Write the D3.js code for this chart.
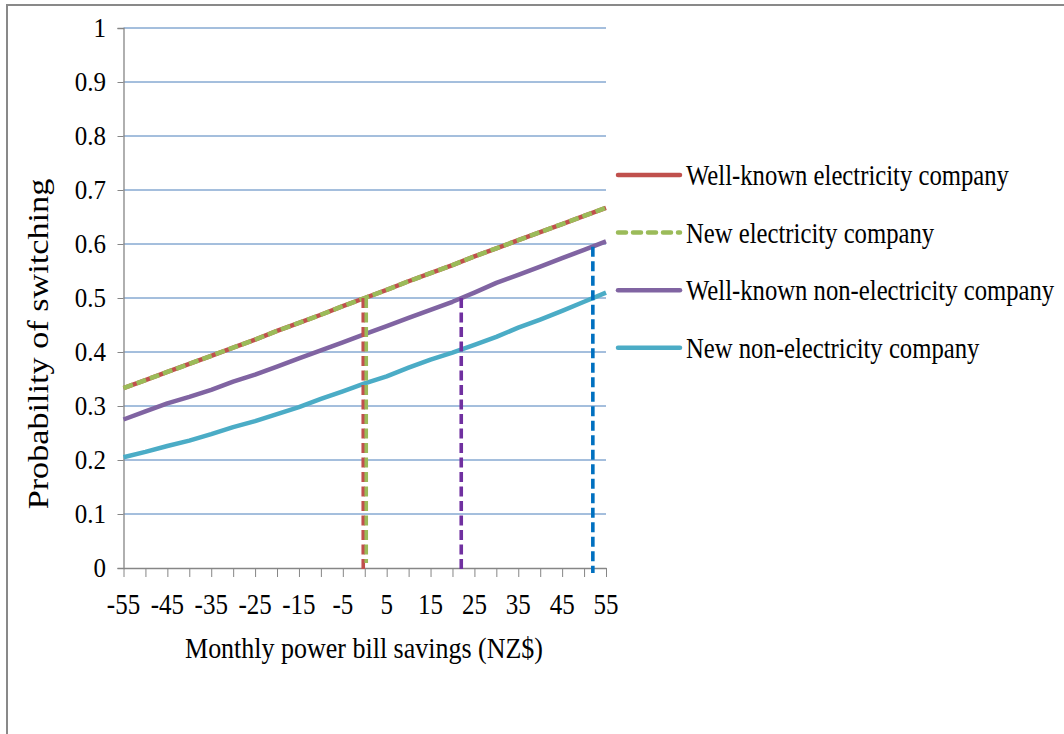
<!DOCTYPE html>
<html>
<head>
<meta charset="utf-8">
<script src="https://cdn.jsdelivr.net/npm/d3@7"></script>
<style>
  body { margin: 0; background: #fff; }
  svg text { font-family: "Liberation Serif", "Times New Roman", serif; fill: #000; }
</style>
</head>
<body>
<div id="chart"></div>
<script>
const width = 1064;
const height = 734;

// Monthly power bill savings (NZ$), one point every 5 dollars
const savings = [-55, -50, -45, -40, -35, -30, -25, -20, -15, -10, -5, 0, 5, 10, 15, 20, 25, 30, 35, 40, 45, 50, 55];
const xTickLabels = [-55, -45, -35, -25, -15, -5, 5, 15, 25, 35, 45, 55];
const yTicks = [0, 0.1, 0.2, 0.3, 0.4, 0.5, 0.6, 0.7, 0.8, 0.9, 1];

const wellKnownElec = [0.333, 0.348, 0.363, 0.378, 0.393, 0.408, 0.423, 0.439, 0.454, 0.469, 0.485, 0.500, 0.515, 0.531, 0.546, 0.561, 0.577, 0.592, 0.607, 0.622, 0.637, 0.652, 0.667];
const newElec       = [0.333, 0.348, 0.363, 0.378, 0.393, 0.408, 0.423, 0.439, 0.454, 0.469, 0.485, 0.500, 0.515, 0.531, 0.546, 0.561, 0.577, 0.592, 0.607, 0.622, 0.637, 0.652, 0.667];
const wellKnownNon  = [0.275, 0.290, 0.305, 0.317, 0.330, 0.345, 0.358, 0.373, 0.388, 0.403, 0.418, 0.433, 0.448, 0.463, 0.478, 0.493, 0.510, 0.528, 0.543, 0.558, 0.574, 0.589, 0.605];
const newNon        = [0.205, 0.215, 0.226, 0.236, 0.248, 0.261, 0.272, 0.285, 0.298, 0.313, 0.327, 0.342, 0.355, 0.371, 0.386, 0.399, 0.413, 0.428, 0.445, 0.460, 0.476, 0.493, 0.510];

const seriesNames = ["Well-known electricity company", "New electricity company", "Well-known non-electricity company", "New non-electricity company"];
const seriesValues = [wellKnownElec, newElec, wellKnownNon, newNon];
const seriesColours = ["#c0504d", "#9bbb59", "#8064a2", "#4bacc6"];
const seriesDash = [null, "10,4", null, null];

// Break-even markers: savings where each curve reaches its marker height
const markerX = [0, 0, 22, 52];
const markerTop = [0.5, 0.5, 0.5, 0.595];
const markerColours = ["#c0504d", "#9bbb59", "#7030a0", "#0070c0"];

const svg = d3.select("#chart").append("svg")
    .attr("width", width)
    .attr("height", height);

// outer chart frame (runs off the right and bottom of the picture)
svg.append("rect")
    .attr("x", 7).attr("y", 5)
    .attr("width", width + 20).attr("height", height + 20)
    .attr("fill", "none")
    .attr("stroke", "#898989")
    .attr("stroke-width", 2);

const x = d3.scaleLinear().domain([-55, 55]).range([123.5, 606]);
const y = d3.scaleLinear().domain([0, 1]).range([568, 28]);

// the source picture is a little taller than wide, so text gets a vertical stretch
const stretched = (sel, px, py, sy) => sel.attr("transform", "translate(" + px + "," + py + ") scale(1," + sy + ")");

// gridlines
svg.append("g").selectAll("line")
  .data(yTicks.filter(d => d > 0)).enter()
  .append("line")
    .attr("x1", x(-55)).attr("x2", x(55))
    .attr("y1", d => y(d)).attr("y2", d => y(d))
    .attr("stroke", "#4a7ebb")
    .attr("stroke-width", 1);

// y axis
const yAxis = svg.append("g")
    .attr("transform", "translate(" + x(-55) + ",0)")
    .call(d3.axisLeft(y).tickValues(yTicks).tickSize(6).tickFormat(""));
yAxis.select(".domain").attr("stroke", "#868686").attr("stroke-width", 1.3);
yAxis.selectAll(".tick line").attr("stroke", "#868686");

svg.append("g").selectAll("text")
  .data(yTicks).enter()
  .append("text")
    .attr("text-anchor", "end")
    .attr("font-size", 25)
    .each(function(d) { stretched(d3.select(this), 106, y(d) + 9, 1.1); })
    .text(d => d3.format("")(d));

// x axis
const xAxis = svg.append("g")
    .attr("transform", "translate(0," + y(0) + ")")
    .call(d3.axisBottom(x).tickValues(savings).tickSize(9).tickSizeOuter(0).tickFormat(""));
xAxis.select(".domain").attr("stroke", "#868686").attr("stroke-width", 1.3);
xAxis.selectAll(".tick line").attr("stroke", "#868686");

svg.append("g").selectAll("text")
  .data(xTickLabels).enter()
  .append("text")
    .attr("text-anchor", "middle")
    .attr("font-size", 25)
    .each(function(d) { stretched(d3.select(this), x(d), 614, 1.18); })
    .text(d => d);

// axis titles
stretched(svg.append("text"), 364, 658, 1.14)
    .attr("text-anchor", "middle")
    .attr("font-size", 26)
    .text("Monthly power bill savings (NZ$)");

svg.append("text")
    .attr("transform", "translate(48,344) rotate(-90) scale(1.18,1)")
    .attr("text-anchor", "middle")
    .attr("font-size", 29)
    .text("Probability of switching");

// series lines
const line = d3.line()
    .x((d, i) => x(savings[i]))
    .y(d => y(d));

svg.append("g").selectAll("path")
  .data(seriesValues).enter()
  .append("path")
    .attr("d", line)
    .attr("fill", "none")
    .attr("stroke", (d, i) => seriesColours[i])
    .attr("stroke-width", 4.5)
    .attr("stroke-linejoin", "round")
    .attr("stroke-dasharray", (d, i) => seriesDash[i]);

// vertical dashed break-even lines
const offsets = [-1.5, 1.5, 0, 0];
const bottoms = [5, -5, 5, 5];
svg.append("g").selectAll("line")
  .data(markerX).enter()
  .append("line")
    .attr("x1", (d, i) => x(d) + offsets[i]).attr("x2", (d, i) => x(d) + offsets[i])
    .attr("y1", (d, i) => y(markerTop[i]))
    .attr("y2", (d, i) => y(0) + bottoms[i])
    .attr("stroke", (d, i) => markerColours[i])
    .attr("stroke-width", 3.6)
    .attr("stroke-dasharray", "10,4.5");

// legend
const legend = svg.append("g").selectAll("g")
  .data(seriesNames).enter()
  .append("g")
    .attr("transform", (d, i) => "translate(618," + (175 + i * 57.6) + ")");

legend.append("line")
    .attr("x1", 0).attr("x2", 62)
    .attr("stroke", (d, i) => seriesColours[i])
    .attr("stroke-width", 4.5)
    .attr("stroke-linecap", "round")
    .attr("stroke-dasharray", (d, i) => seriesDash[i] ? "8,7" : null);

legend.append("text")
    .attr("font-size", 24.7)
    .each(function() { stretched(d3.select(this), 68, 10, 1.2); })
    .text(d => d);
</script>
</body>
</html>
